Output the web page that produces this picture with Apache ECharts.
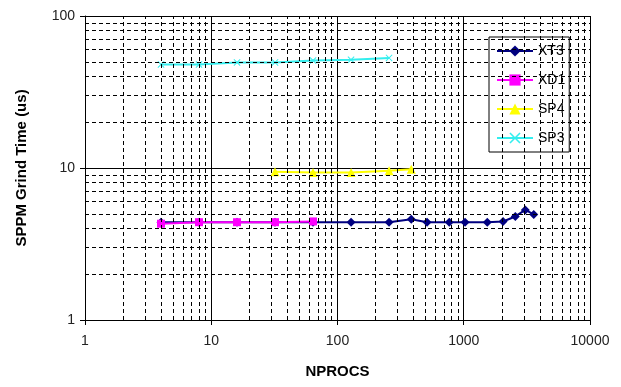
<!DOCTYPE html>
<html>
<head>
<meta charset="utf-8">
<script src="https://cdn.jsdelivr.net/npm/echarts@6/dist/echarts.min.js"></script>
<style>
html,body{margin:0;padding:0;background:#fff;}
#chart{width:621px;height:387px;}
</style>
</head>
<body>
<div id="chart"></div>
<script>
// ---- data ----
var xt3X = [4, 8, 16, 32, 64, 128, 256, 384, 512, 768, 1024, 1536, 2048, 2560, 3072, 3584];
var xt3Y = [4.4, 4.4, 4.4, 4.4, 4.4, 4.4, 4.4, 4.6, 4.4, 4.4, 4.4, 4.4, 4.45, 4.8, 5.3, 4.95];
var xd1X = [4, 8, 16, 32, 64];
var xd1Y = [4.3, 4.4, 4.4, 4.4, 4.45];
var sp4X = [32, 64, 128, 256, 384];
var sp4Y = [9.45, 9.35, 9.35, 9.6, 9.8];
var sp3X = [4, 8, 16, 32, 64, 128, 256];
var sp3Y = [48, 48, 49.5, 49.5, 51, 51.5, 53];
var seriesNames = ['XT3', 'XD1', 'SP4', 'SP3'];
var xTitle = 'NPROCS';
var yTitle = 'SPPM Grind Time (us)';

function pairs(xs, ys) { return xs.map(function (x, i) { return [x, ys[i]]; }); }

// minor log grid lines (2..9 in each decade)
var minorX = [], minorY = [];
for (var d = 1; d < 10000; d *= 10) for (var m = 2; m <= 9; m++) minorX.push({ xAxis: m * d });
for (var d2 = 1; d2 < 100; d2 *= 10) for (var m2 = 2; m2 <= 9; m2++) minorY.push({ yAxis: m2 * d2 });

var font = 'Liberation Sans, Arial, sans-serif';
var xSym = 'path://M0,1L1,0L5,4L9,0L10,1L6,5L10,9L9,10L5,6L1,10L0,9L4,5Z';
function plain(v) { return String(Math.round(v)); }

var chart = echarts.init(document.getElementById('chart'), null, { renderer: 'canvas' });
chart.setOption({
  backgroundColor: '#fff',
  animation: false,
  grid: { left: 85, right: 31, top: 16, bottom: 67 },
  legend: {
    data: seriesNames,
    orient: 'vertical',
    left: 489, top: 37,
    backgroundColor: '#fff',
    borderColor: '#000', borderWidth: 1,
    padding: [7, 4, 7, 7],
    itemWidth: 36, itemHeight: 14, itemGap: 15,
    textStyle: { fontFamily: font, fontSize: 14, color: '#000' }
  },
  xAxis: {
    type: 'log', logBase: 10, min: 1, max: 10000,
    name: xTitle, nameLocation: 'middle', nameGap: 44,
    nameTextStyle: { fontFamily: 'Liberation Sans Narrow, Arial Narrow, ' + font, fontWeight: 'bold', fontSize: 15, color: '#000' },
    axisLine: { lineStyle: { color: '#000', width: 1 } },
    axisTick: { show: true, inside: false, length: 5, lineStyle: { color: '#000' } },
    axisLabel: { fontFamily: font, fontSize: 14, color: '#222', margin: 14, formatter: plain },
    splitLine: { show: true, lineStyle: { color: '#000', width: 1 } }
  },
  yAxis: {
    type: 'log', logBase: 10, min: 1, max: 100,
    name: yTitle, nameLocation: 'middle', nameGap: 56, nameRotate: 90,
    nameTextStyle: { fontFamily: font, fontWeight: 'bold', fontSize: 15, color: '#000' },
    axisLine: { show: true, lineStyle: { color: '#000', width: 1 } },
    axisTick: { show: true, inside: false, length: 5, lineStyle: { color: '#000' } },
    axisLabel: { fontFamily: font, fontSize: 14, color: '#222', margin: 10, formatter: plain },
    splitLine: { show: true, lineStyle: { color: '#000', width: 1 } }
  },
  series: [
    {
      name: '_grid', type: 'line', data: [], silent: true, z: 1,
      markLine: {
        silent: true, symbol: ['none', 'none'], label: { show: false },
        lineStyle: { color: '#000', type: [4, 3], width: 1 },
        data: minorX.concat(minorY)
      }
    },
    {
      name: 'XT3', type: 'line', data: pairs(xt3X, xt3Y), z: 3,
      symbol: 'diamond', symbolSize: 9,
      lineStyle: { color: '#000080', width: 2 },
      itemStyle: { color: '#000080' }
    },
    {
      name: 'XD1', type: 'line', data: pairs(xd1X, xd1Y), z: 4,
      symbol: 'rect', symbolSize: 8,
      lineStyle: { color: '#ff00ff', width: 2 },
      itemStyle: { color: '#ff00ff' }
    },
    {
      name: 'SP4', type: 'line', data: pairs(sp4X, sp4Y), z: 3,
      symbol: 'triangle', symbolSize: 9,
      lineStyle: { color: '#ffff00', width: 2 },
      itemStyle: { color: '#ffff00' }
    },
    {
      name: 'SP3', type: 'line', data: pairs(sp3X, sp3Y), z: 3,
      symbol: xSym, symbolSize: 7,
      lineStyle: { color: '#33eeee', width: 2 },
      itemStyle: { color: '#33eeee' }
    }
  ]
});
</script>
</body>
</html>
